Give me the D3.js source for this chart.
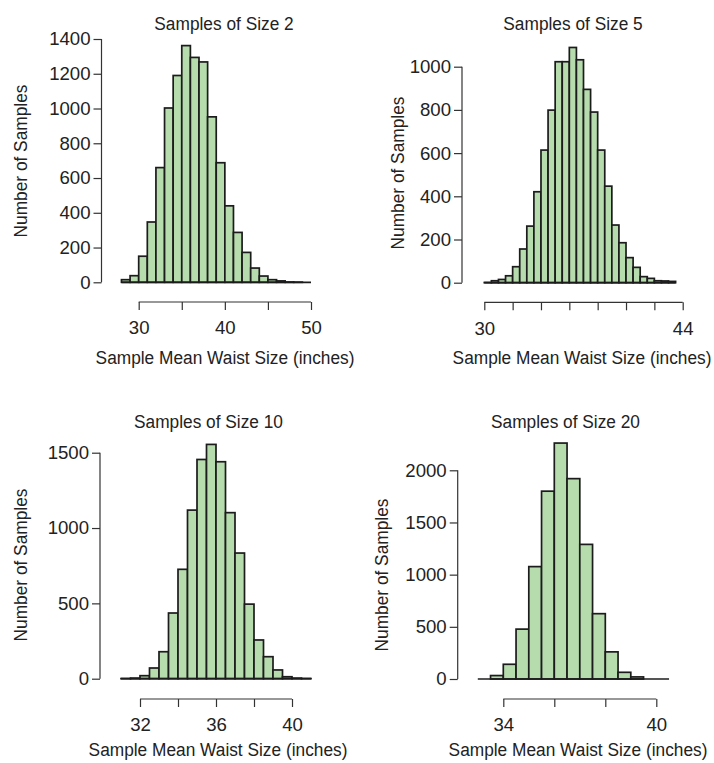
<!DOCTYPE html>
<html>
<head>
<meta charset="utf-8">
<script src="https://cdn.jsdelivr.net/npm/d3@7"></script>
<style>
  html, body { margin: 0; padding: 0; background: #fff; }
  svg text { font-family: "Liberation Sans", Arial, Helvetica, sans-serif; fill: #222; }
</style>
</head>
<body>
<svg id="chart" width="714" height="763"></svg>
<script>
// ---------------- DATA ----------------
const titles = ["Samples of Size 2", "Samples of Size 5", "Samples of Size 10", "Samples of Size 20"];
const xTitle = "Sample Mean Waist Size (inches)";
const yTitle = "Number of Samples";

// Panel 1: samples of size 2 (bin width 1)
const binsSize2 = [28,29,30,31,32,33,34,35,36,37,38,39,40,41,42,43,44,45,46,47,48,49];
const countsSize2 = [15,38,150,347,660,1003,1190,1362,1294,1268,952,688,440,287,172,82,36,15,8,2,1,0];
const binWidthSize2 = 1;
const xTicksSize2 = [30,35,40,45,50];
const xTickLabelsSize2 = ["30","","40","","50"];
const yTicksSize2 = [0,200,400,600,800,1000,1200,1400];

// Panel 2: samples of size 5 (bin width 0.5)
const binsSize5 = [30,30.5,31,31.5,32,32.5,33,33.5,34,34.5,35,35.5,36,36.5,37,37.5,38,38.5,39,39.5,40,40.5,41,41.5,42,42.5,43];
const countsSize5 = [1,9,15,32,74,156,262,421,614,799,1023,1023,1089,1032,895,790,614,447,267,185,116,71,28,20,9,8,6];
const binWidthSize5 = 0.5;
const xTicksSize5 = [30,32,34,36,38,40,42,44];
const xTickLabelsSize5 = ["30","","","","","","","44"];
const yTicksSize5 = [0,200,400,600,800,1000];

// Panel 3: samples of size 10 (bin width 0.5)
const binsSize10 = [31,31.5,32,32.5,33,33.5,34,34.5,35,35.5,36,36.5,37,37.5,38,38.5,39,39.5,40,40.5];
const countsSize10 = [1,4,20,71,179,436,726,1119,1455,1555,1440,1102,834,495,257,146,58,13,4,1];
const binWidthSize10 = 0.5;
const xTicksSize10 = [32,34,36,38,40];
const xTickLabelsSize10 = ["32","","36","","40"];
const yTicksSize10 = [0,500,1000,1500];

// Panel 4: samples of size 20 (bin width 0.5)
const binsSize20 = [33,33.5,34,34.5,35,35.5,36,36.5,37,37.5,38,38.5,39,39.5,40];
const countsSize20 = [0,33,141,478,1077,1800,2261,1920,1290,626,260,64,20,0,0];
const binWidthSize20 = 0.5;
const xTicksSize20 = [34,36,38,40];
const xTickLabelsSize20 = ["34","","","40"];
const yTicksSize20 = [0,500,1000,1500,2000];

// ---------------- LAYOUT ----------------
const FONT = 18.6;
const SX = 0.93;           // horizontal condensing for word labels
const BAR_FILL = "#b6dcad";
const BAR_STROKE = "#1c1c1c";
const AXIS_COLOR = "#333";

const panels = [
  { title: titles[0], bins: binsSize2, counts: countsSize2, bw: binWidthSize2,
    xTicks: xTicksSize2, xLabels: xTickLabelsSize2, yTicks: yTicksSize2,
    xDomain: [30, 50], xRange: [138.7, 311], yDomain: [0, 1400], yRange: [282.3, 39],
    yAxisX: 101.5, xAxisY: 302, titleX: 224, titleY: 30, yTitleX: 27, yTitleY: 161, xTitleX: 225, xTitleY: 364 },
  { title: titles[1], bins: binsSize5, counts: countsSize5, bw: binWidthSize5,
    xTicks: xTicksSize5, xLabels: xTickLabelsSize5, yTicks: yTicksSize5,
    xDomain: [30, 44], xRange: [484.3, 682.7], yDomain: [0, 1000], yRange: [282.7, 66.7],
    yAxisX: 462, xAxisY: 302.3, titleX: 573, titleY: 30, yTitleX: 404, yTitleY: 173, xTitleX: 582, xTitleY: 364 },
  { title: titles[2], bins: binsSize10, counts: countsSize10, bw: binWidthSize10,
    xTicks: xTicksSize10, xLabels: xTickLabelsSize10, yTicks: yTicksSize10,
    xDomain: [32, 40], xRange: [140, 292], yDomain: [0, 1500], yRange: [678.7, 452.7],
    yAxisX: 100, xAxisY: 699, titleX: 208.5, titleY: 428, yTitleX: 27, yTitleY: 565, xTitleX: 218, xTitleY: 756 },
  { title: titles[3], bins: binsSize20, counts: countsSize20, bw: binWidthSize20,
    xTicks: xTicksSize20, xLabels: xTickLabelsSize20, yTicks: yTicksSize20,
    xDomain: [34, 40], xRange: [503.3, 656.3], yDomain: [0, 2000], yRange: [679, 470.3],
    yAxisX: 457.7, xAxisY: 699, titleX: 565.5, titleY: 428, yTitleX: 388, yTitleY: 575, xTitleX: 578, xTitleY: 756 }
];

const svg = d3.select("#chart");

function styleTicks(sel) {
  sel.selectAll(".tick text")
    .attr("font-size", FONT).attr("fill", "#222")
    .style("font-family", "'Liberation Sans', Arial, sans-serif");
}

function label(g, x, y, rot, txt) {
  g.append("text")
    .attr("transform", `translate(${x},${y}) rotate(${rot}) scale(${SX},1)`)
    .attr("text-anchor", "middle").attr("font-size", FONT).text(txt);
}

panels.forEach(p => {
  const g = svg.append("g");
  const x = d3.scaleLinear().domain(p.xDomain).range(p.xRange);
  const y = d3.scaleLinear().domain(p.yDomain).range(p.yRange);

  // bars
  const data = p.bins.map((b, i) => ({ x0: b, x1: b + p.bw, n: p.counts[i] }));
  g.selectAll("rect.bar").data(data.filter(d => d.n > 0)).enter().append("rect")
    .attr("class", "bar")
    .attr("x", d => x(d.x0))
    .attr("width", d => x(d.x1) - x(d.x0))
    .attr("y", d => y(d.n))
    .attr("height", d => y(0) - y(d.n))
    .attr("fill", BAR_FILL)
    .attr("stroke", BAR_STROKE)
    .attr("stroke-width", 1.7);

  // baseline across all bins
  g.append("line")
    .attr("x1", x(data[0].x0)).attr("x2", x(data[data.length - 1].x1))
    .attr("y1", y(0)).attr("y2", y(0))
    .attr("stroke", BAR_STROKE).attr("stroke-width", 1.7);

  // y axis (R style, offset)
  const yAxisG = g.append("g").attr("transform", `translate(${p.yAxisX},0)`)
    .call(d3.axisLeft(y).tickValues(p.yTicks).tickSize(8).tickPadding(3).tickSizeOuter(0)
      .tickFormat(d3.format("d")));
  yAxisG.select(".domain").remove();
  yAxisG.append("line")
    .attr("x1", 0).attr("x2", 0)
    .attr("y1", y(p.yTicks[0])).attr("y2", y(p.yTicks[p.yTicks.length - 1]))
    .attr("stroke", AXIS_COLOR).attr("stroke-width", 1.2);
  yAxisG.selectAll(".tick line").attr("stroke", AXIS_COLOR).attr("stroke-width", 1.2);
  styleTicks(yAxisG);

  // x axis (R style, offset)
  const xAxisG = g.append("g").attr("transform", `translate(0,${p.xAxisY})`)
    .call(d3.axisBottom(x).tickValues(p.xTicks).tickSize(8).tickPadding(11).tickSizeOuter(0)
      .tickFormat((d, i) => p.xLabels[i]));
  xAxisG.select(".domain").remove();
  xAxisG.append("line")
    .attr("x1", x(p.xTicks[0])).attr("x2", x(p.xTicks[p.xTicks.length - 1]))
    .attr("y1", 0).attr("y2", 0)
    .attr("stroke", AXIS_COLOR).attr("stroke-width", 1.2);
  xAxisG.selectAll(".tick line").attr("stroke", AXIS_COLOR).attr("stroke-width", 1.2);
  styleTicks(xAxisG);

  // titles
  label(g, p.titleX, p.titleY, 0, p.title);
  label(g, p.xTitleX, p.xTitleY, 0, xTitle);
  label(g, p.yTitleX, p.yTitleY, -90, yTitle);
});
</script>
</body>
</html>
